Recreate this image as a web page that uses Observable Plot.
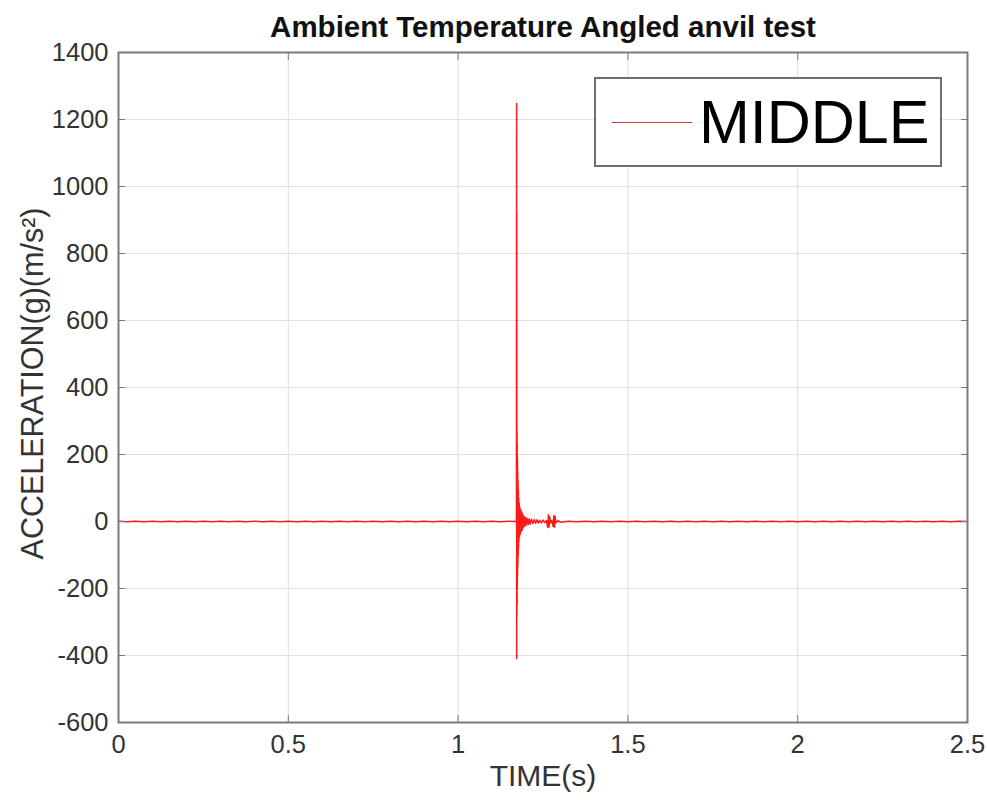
<!DOCTYPE html>
<html>
<head>
<meta charset="utf-8">
<script src="https://cdn.jsdelivr.net/npm/d3@7"></script>
<script src="https://cdn.jsdelivr.net/npm/@observablehq/plot@0.6"></script>
<style>
  html, body { margin: 0; padding: 0; background: #fff; }
  #wrap { position: relative; width: 987px; height: 800px; font-family: "Liberation Sans", Arial, sans-serif; }
  #legend { position: absolute; left: 594px; top: 77px; width: 344px; height: 86px; border: 2px solid #6f6f6f; background: #fff; box-sizing: content-box; }
  #legend .sw { position: absolute; left: 16px; top: 43px; width: 80px; height: 0; border-top: 1.5px solid #c83a3a; }
  #legend .lb { position: absolute; left: 103px; top: 4px; font-size: 61px; line-height: 78px; color: #000; }
</style>
</head>
<body>
<div id="wrap"><div id="legend"><div class="sw"></div><div class="lb"></div></div></div>
<script>
const title = "Ambient Temperature Angled anvil test";
const xLabel = "TIME(s)";
const yLabel = "ACCELERATION(g)(m/s²)";
const seriesName = "MIDDLE";
const xTicks = [0, 0.5, 1, 1.5, 2, 2.5];
const yTicks = [-600, -400, -200, 0, 200, 400, 600, 800, 1000, 1200, 1400];

// time (s) and acceleration
const timeBefore = [0, 0.025, 0.05, 0.075, 0.1, 0.125, 0.15, 0.175, 0.2, 0.225, 0.25, 0.275, 0.3, 0.325, 0.35, 0.375, 0.4, 0.425, 0.45, 0.475, 0.5, 0.525, 0.55, 0.575, 0.6, 0.625, 0.65, 0.675, 0.7, 0.725, 0.75, 0.775, 0.8, 0.825, 0.85, 0.875, 0.9, 0.925, 0.95, 0.975, 1.0, 1.025, 1.05, 1.075, 1.1, 1.125, 1.15];
const accelBefore = [1, -1, 1, -1, 1, -1, 1, -1, 1, -1, 1, -1, 1, -1, 1, -1, 1, -1, 1, -1, 1, -1, 1, -1, 1, -1, 1, -1, 1, -1, 1, -1, 1, -1, 1, -1, 1, -1, 1, -1, 1, -1, 1, -1, 1, -1, 1];

const timeImpact = [1.170, 1.171, 1.1718, 1.1722, 1.1725, 1.1728, 1.1731, 1.1734, 1.1737, 1.174, 1.1744, 1.1748, 1.1752, 1.1756, 1.176, 1.1765, 1.177, 1.1775, 1.178, 1.1786, 1.1792, 1.18, 1.181, 1.182, 1.183, 1.1845, 1.186, 1.1875, 1.189, 1.1905, 1.192, 1.194, 1.196, 1.198, 1.2, 1.203, 1.206, 1.209, 1.212, 1.216, 1.22, 1.224, 1.228, 1.232, 1.236, 1.24, 1.245, 1.25, 1.255, 1.26, 1.264, 1.266, 1.268, 1.27, 1.272, 1.276, 1.28, 1.282, 1.284, 1.286, 1.288, 1.295, 1.3];
const accelImpact = [0, 3, -5, 1248, -409, 920, -285, 275, -250, 230, -200, 190, -160, 150, -130, 120, -100, 95, -80, 70, -60, 55, -45, 42, -38, 35, -30, 28, -25, 22, -18, 16, -14, 12, -11, 10, -9, 8, -8, 7, -6, 6, -5, 5, -5, 4, -4, 4, -3, 3, -18, 20, -16, 14, -4, 3, -15, 18, -17, 15, -4, 3, -2];

const timeAfter = [1.325, 1.35, 1.375, 1.4, 1.425, 1.45, 1.475, 1.5, 1.525, 1.55, 1.575, 1.6, 1.625, 1.65, 1.675, 1.7, 1.725, 1.75, 1.775, 1.8, 1.825, 1.85, 1.875, 1.9, 1.925, 1.95, 1.975, 2.0, 2.025, 2.05, 2.075, 2.1, 2.125, 2.15, 2.175, 2.2, 2.225, 2.25, 2.275, 2.3, 2.325, 2.35, 2.375, 2.4, 2.425, 2.45, 2.475, 2.5];
const accelAfter = [1, -1, 1, -1, 1, -1, 1, -1, 1, -1, 1, -1, 1, -1, 1, -1, 1, -1, 1, -1, 1, -1, 1, -1, 1, -1, 1, -1, 1, -1, 1, -1, 1, -1, 1, -1, 1, -1, 1, -1, 1, -1, 1, -1, 1, -1, 1, 0];

const times = [...timeBefore, ...timeImpact, ...timeAfter];
const accels = [...accelBefore, ...accelImpact, ...accelAfter];
const data = times.map((t, i) => ({t, a: accels[i]}));

const axisColor = "#7a7a7a";
const textColor = "#333333";

const chart = Plot.plot({
  width: 987,
  height: 800,
  marginLeft: 118,
  marginRight: 20,
  marginTop: 52,
  marginBottom: 78,
  style: {fontFamily: "Liberation Sans, Arial, sans-serif", fontSize: "25px", color: textColor, background: "transparent", overflow: "visible"},
  x: {domain: [0, 2.5]},
  y: {domain: [-600, 1400]},
  marks: [
    Plot.gridX(xTicks, {stroke: "#e0e0e0", strokeOpacity: 1}),
    Plot.gridY(yTicks, {stroke: "#e0e0e0", strokeOpacity: 1}),
    Plot.line(data, {x: "t", y: "a", stroke: "#ff1a1a", strokeWidth: 1.5}),
    Plot.frame({stroke: axisColor, strokeWidth: 2}),
    Plot.axisX(xTicks, {anchor: "bottom", tickSize: -7, stroke: axisColor, fill: "none", label: null}),
    Plot.axisX(xTicks, {anchor: "top", tickSize: -7, stroke: axisColor, fill: "none", label: null}),
    Plot.axisY(yTicks, {anchor: "left", tickSize: -7, stroke: axisColor, fill: "none", label: null}),
    Plot.axisY(yTicks, {anchor: "right", tickSize: -7, stroke: axisColor, fill: "none", label: null}),
    Plot.axisX(xTicks, {anchor: "bottom", tickSize: 0, tickPadding: 12, fill: textColor, fontSize: 25.5, label: null, tickFormat: d => String(d)}),
    Plot.axisY(yTicks, {anchor: "left", tickSize: 0, tickPadding: 10, fill: textColor, fontSize: 25.5, label: null, tickFormat: d => String(d)}),
    Plot.text([title], {frameAnchor: "top", dy: -25, text: d => d, fontSize: 29.5, fontWeight: "bold", fill: "#111", textAnchor: "middle", lineAnchor: "middle"}),
    Plot.text([xLabel], {frameAnchor: "bottom", dy: 54, text: d => d, fontSize: 30, fill: textColor, textAnchor: "middle", lineAnchor: "middle"}),
    Plot.text([yLabel], {frameAnchor: "left", dx: -85, dy: -4, rotate: -90, text: d => d, fontSize: 30.5, fill: textColor, textAnchor: "middle", lineAnchor: "middle"})
  ]
});
const wrap = document.getElementById("wrap");
wrap.insertBefore(chart, wrap.firstChild);
document.querySelector("#legend .lb").textContent = seriesName;
</script>
</body>
</html>
